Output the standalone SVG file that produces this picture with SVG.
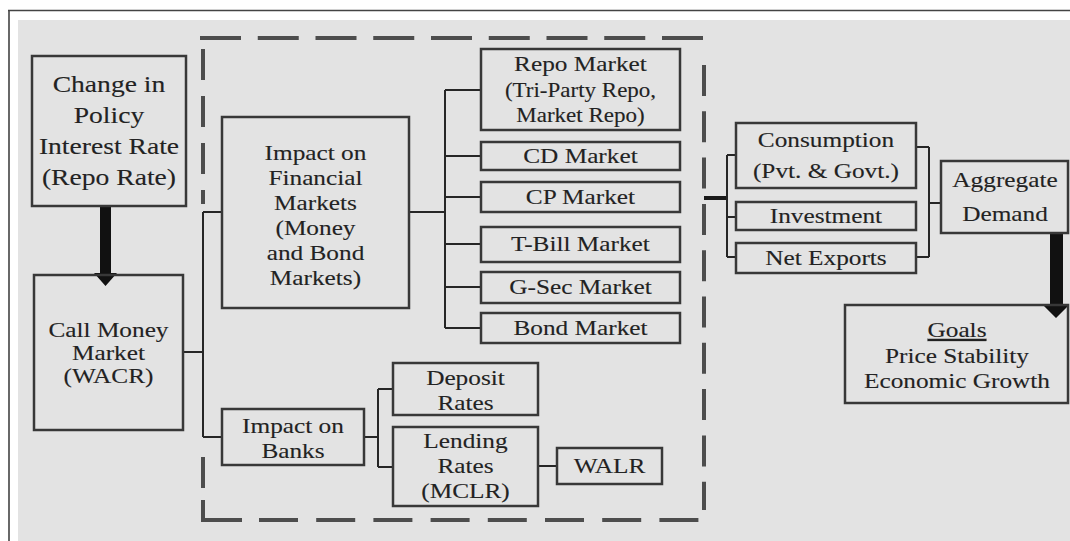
<svg xmlns="http://www.w3.org/2000/svg" width="1070" height="541" viewBox="0 0 1070 541">
<style>
.box{fill:none;stroke:#383838;stroke-width:2.5}
.con{fill:none;stroke:#262626;stroke-width:2}
.dash{fill:none;stroke:#4d4d4d;stroke-width:4}
text{font-family:"Liberation Serif","Times New Roman",serif;font-size:22px;fill:#222222;stroke:#2a2a2a;stroke-width:0.12;text-anchor:middle;transform-box:fill-box;transform-origin:center;transform:scaleX(1.15)}
.big{font-size:24px}
.sm{font-size:20px}
</style>
<rect x="0" y="0" width="1070" height="541" fill="#ffffff"/>
<path d="M8,10.5H1070M9,10V541" stroke="#444" stroke-width="1.6" fill="none"/>
<rect x="18" y="20" width="1052" height="521" fill="#e3e3e3"/>

<g id="dashed-region">
<line class="dash" x1="200" y1="38" x2="705" y2="38" stroke-dasharray="41 16.75"/>
<line class="dash" x1="203" y1="49" x2="203" y2="204" stroke-dasharray="31 16"/>
<path class="dash" d="M203,457V488M203,500V520H242" />
<line class="dash" x1="259" y1="520" x2="704" y2="520" stroke-dasharray="39 18.2"/>
<line class="dash" x1="704" y1="65" x2="704" y2="510" stroke-dasharray="31 15.3"/>
</g>

<g id="connectors">
<path class="con" d="M183,352H203M203,212V437M203,212H222M203,437H222"/>
<path class="con" d="M409,212H445M445,90V328M445,90H481M445,156H481M445,197H481M445,244H481M445,287H481M445,328H481"/>
<path class="con" d="M364,437H378M378,389V467M378,389H393M378,467H393"/>
<path class="con" d="M538,466H557"/>
<path d="M704,198H727" stroke="#1a1a1a" stroke-width="4" fill="none"/>
<path class="con" d="M727,155V257M727,155H736M727,217H736M727,257H736"/>
<path class="con" d="M916,147H929M929,147V257M916,257H929M929,203H940"/>
<path d="M100,206H111V273H117L105.5,286L94,273H100Z" fill="#111"/>
<path d="M1050,233H1063V305H1069L1056,318L1043,305H1050Z" fill="#111"/>
</g>

<g id="change-policy">
<rect class="box" x="32" y="56" width="154" height="150"/>
<text class="big" x="109" y="92">Change in</text>
<text class="big" x="109" y="123">Policy</text>
<text class="big" x="109" y="154">Interest Rate</text>
<text class="big" x="109" y="185">(Repo Rate)</text>
</g>

<g id="call-money">
<rect class="box" x="34" y="275" width="149" height="155"/>
<text x="108.5" y="337">Call Money</text>
<text x="108.5" y="360">Market</text>
<text x="108.5" y="383">(WACR)</text>
</g>

<g id="financial-markets">
<rect class="box" x="222" y="117" width="187" height="191"/>
<text x="315.5" y="160">Impact on</text>
<text x="315.5" y="185">Financial</text>
<text x="315.5" y="210">Markets</text>
<text x="315.5" y="235">(Money</text>
<text x="315.5" y="260">and Bond</text>
<text x="315.5" y="285">Markets)</text>
</g>

<g id="repo-market">
<rect class="box" x="481" y="49" width="199" height="81"/>
<text x="580.5" y="71">Repo Market</text>
<text class="sm" x="580.5" y="97">(Tri-Party Repo,</text>
<text class="sm" x="580.5" y="122">Market Repo)</text>
</g>
<g id="cd-market">
<rect class="box" x="481" y="142" width="199" height="28"/>
<text x="580.5" y="163">CD Market</text>
</g>
<g id="cp-market">
<rect class="box" x="481" y="182" width="199" height="30"/>
<text x="580.5" y="204">CP Market</text>
</g>
<g id="tbill-market">
<rect class="box" x="481" y="227" width="199" height="35"/>
<text x="580.5" y="251">T-Bill Market</text>
</g>
<g id="gsec-market">
<rect class="box" x="481" y="272" width="199" height="31"/>
<text x="580.5" y="294">G-Sec Market</text>
</g>
<g id="bond-market">
<rect class="box" x="481" y="313" width="199" height="30"/>
<text x="580.5" y="335">Bond Market</text>
</g>

<g id="impact-banks">
<rect class="box" x="222" y="409" width="142" height="56"/>
<text x="293" y="433">Impact on</text>
<text x="293" y="458">Banks</text>
</g>
<g id="deposit-rates">
<rect class="box" x="393" y="363" width="145" height="52"/>
<text x="465.5" y="385">Deposit</text>
<text x="465.5" y="410">Rates</text>
</g>
<g id="lending-rates">
<rect class="box" x="393" y="427" width="145" height="79"/>
<text x="465.5" y="448">Lending</text>
<text x="465.5" y="473">Rates</text>
<text x="465.5" y="498">(MCLR)</text>
</g>
<g id="walr">
<rect class="box" x="557" y="448" width="105" height="36"/>
<text x="609.5" y="473">WALR</text>
</g>

<g id="consumption">
<rect class="box" x="736" y="123" width="180" height="65"/>
<text x="826" y="147">Consumption</text>
<text x="826" y="178">(Pvt. &amp; Govt.)</text>
</g>
<g id="investment">
<rect class="box" x="736" y="202" width="180" height="28"/>
<text x="826" y="223">Investment</text>
</g>
<g id="net-exports">
<rect class="box" x="736" y="243" width="180" height="30"/>
<text x="826" y="265">Net Exports</text>
</g>
<g id="aggregate-demand">
<rect class="box" x="941" y="161" width="127" height="72"/>
<text x="1005" y="187">Aggregate</text>
<text x="1005" y="221">Demand</text>
</g>
<g id="goals">
<rect class="box" x="845" y="305" width="223" height="98"/>
<text x="957" y="337" text-decoration="underline">Goals</text>
<text x="957" y="363">Price Stability</text>
<text x="957" y="388">Economic Growth</text>
</g>
</svg>
